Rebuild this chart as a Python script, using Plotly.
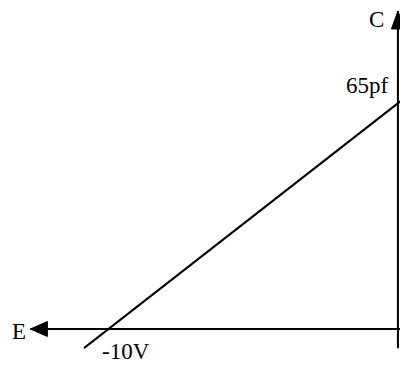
import plotly.graph_objects as go

# capacitance vs reverse voltage (varactor sketch)
voltage = [-10.84, 0.18]        # V, ends of the drawn line
capacitance = [-5.5, 66.1]      # pF
v_label = -10                   # intercept on voltage axis
c_label = 65                    # intercept on capacitance axis
tick_text_v = "-10V"
tick_text_c = "65pf"
axis_names = ["E", "C"]

# page body keeps an 8px margin and only ~400px show, so keep the C axis inside
W, H = 392, 357
x_range = [-13.462, 0.0716]
y_range = [-10.35, 92.32]
font = dict(family="Liberation Serif, Times New Roman, serif", size=23, color="black")

fig = go.Figure()

fig.add_trace(go.Scatter(
    x=voltage, y=capacitance, mode="lines",
    line=dict(color="black", width=2), hoverinfo="skip", showlegend=False,
))

# axes
x_tip = -12.69
y_tip = 91.46
fig.add_shape(type="line", xref="x", yref="y", x0=x_tip, x1=x_range[1], y0=0, y1=0,
              line=dict(color="black", width=2))
fig.add_shape(type="line", xref="x", yref="y", x0=0, x1=0, y0=-5.5, y1=y_tip,
              line=dict(color="black", width=2))

# arrow heads (pixel-sized)
fig.add_shape(type="path", xref="x", yref="y", xsizemode="pixel", ysizemode="pixel",
              xanchor=x_tip, yanchor=0, path="M 0 0 L 17 7.5 L 17 -7.5 Z",
              fillcolor="black", line=dict(color="black", width=1))
fig.add_shape(type="path", xref="x", yref="y", xsizemode="pixel", ysizemode="pixel",
              xanchor=0, yanchor=y_tip, path="M 0 0 L -6.5 -18 L 6.5 -18 Z",
              fillcolor="black", line=dict(color="black", width=1))

fig.add_annotation(x=x_tip, y=0, text=axis_names[0], showarrow=False, xanchor="right",
                   yanchor="middle", xshift=-2, yshift=-2, font=font)
fig.add_annotation(x=0, y=y_tip, text=axis_names[1], showarrow=False, xanchor="right",
                   yanchor="top", xshift=-12, yshift=6, font=font)
fig.add_annotation(x=0, y=c_label, text=tick_text_c, showarrow=False, xanchor="right",
                   yanchor="bottom", xshift=-7, yshift=3, font=font)
fig.add_annotation(x=v_label, y=0, text=tick_text_v, showarrow=False, xanchor="left",
                   yanchor="top", xshift=-8, yshift=-8, font=font)

fig.update_xaxes(range=x_range, visible=False, fixedrange=True)
fig.update_yaxes(range=y_range, visible=False, fixedrange=True)
fig.update_layout(
    width=W, height=H, margin=dict(l=0, r=0, t=0, b=0),
    paper_bgcolor="white", plot_bgcolor="white",
)

fig.write_html("out.html")
